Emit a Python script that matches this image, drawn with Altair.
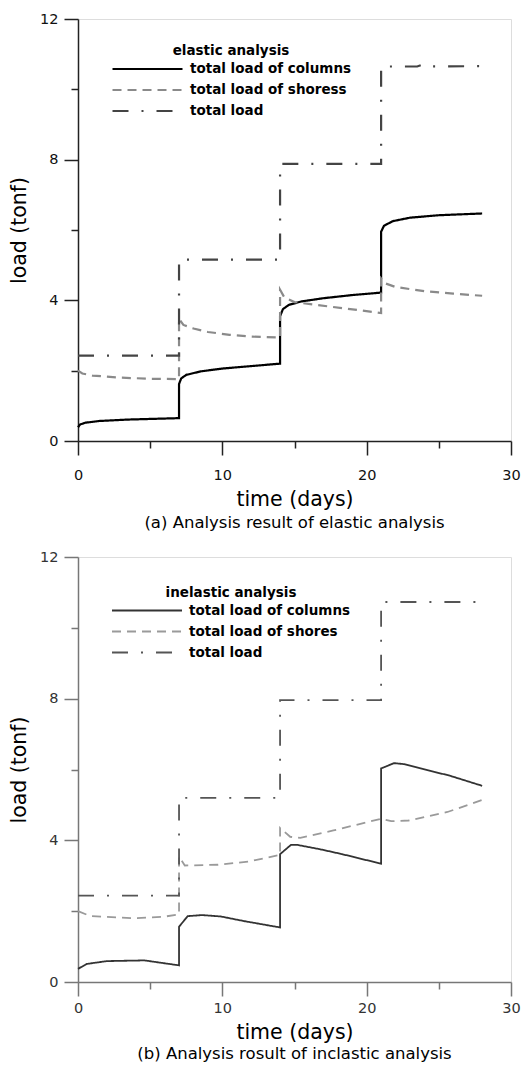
import altair as alt
import pandas as pd

FONT = "DejaVu Sans"

# ---------------- data ----------------
series_a = ["total load of columns", "total load of shoress", "total load"]
series_b = ["total load of columns", "total load of shores", "total load"]

# panel (a) elastic analysis
a_col_t = [0, 0.15, 0.5, 1.5, 3.5, 7, 7, 7.15, 7.5, 8.5, 10, 12, 14, 14, 14.2, 14.6, 15.5, 17, 19, 21, 21, 21.2, 21.8, 23, 25, 28]
a_col_v = [0.39, 0.47, 0.52, 0.57, 0.61, 0.65, 1.62, 1.78, 1.88, 1.98, 2.06, 2.13, 2.2, 3.55, 3.75, 3.87, 3.97, 4.06, 4.15, 4.22, 5.95, 6.12, 6.25, 6.35, 6.42, 6.47]
a_sho_t = [0, 0.3, 1, 3, 5, 7, 7, 7.3, 8, 9, 10.5, 12, 14, 14, 14.3, 15, 16.5, 18.5, 21, 21, 21.3, 22, 24, 26, 28]
a_sho_v = [2.0, 1.92, 1.86, 1.8, 1.77, 1.76, 3.48, 3.3, 3.2, 3.1, 3.02, 2.97, 2.94, 4.3, 4.08, 3.95, 3.87, 3.77, 3.64, 4.62, 4.48, 4.38, 4.26, 4.19, 4.13]
a_tot_t = [0, 7, 7, 14, 14, 21, 21, 23.5, 24, 24.5, 28]
a_tot_v = [2.43, 2.43, 5.16, 5.16, 7.88, 7.88, 10.65, 10.65, 10.72, 10.65, 10.66]

# panel (b) inelastic analysis
b_col_t = [0, 0.6, 2.0, 4.6, 7, 7, 7.6, 8.6, 9.9, 11.5, 14, 14, 14.75, 15.2, 16.75, 18.3, 21, 21, 21.9, 22.6, 25.8, 28]
b_col_v = [0.37, 0.51, 0.59, 0.61, 0.47, 1.56, 1.86, 1.89, 1.85, 1.72, 1.54, 3.61, 3.87, 3.87, 3.75, 3.61, 3.34, 6.03, 6.18, 6.15, 5.82, 5.54]
b_sho_t = [0, 0.86, 3.8, 5.9, 7, 7, 7.4, 9.7, 11.8, 14, 14, 14.7, 15.4, 17.7, 21, 21.7, 22.9, 25.6, 28]
b_sho_v = [2.0, 1.86, 1.80, 1.84, 1.91, 3.54, 3.29, 3.31, 3.40, 3.59, 4.35, 4.10, 4.07, 4.28, 4.61, 4.54, 4.56, 4.80, 5.14]
b_tot_t = [0, 7, 7, 14, 14, 21, 21, 28]
b_tot_v = [2.44, 2.44, 5.2, 5.2, 7.96, 7.96, 10.73, 10.73]

x_ticks = [0, 5, 10, 15, 20, 25, 30]
y_ticks = [0, 2, 4, 6, 8, 10, 12]


def frame(names, parts):
    rows = []
    for name, (ts, vs) in zip(names, parts):
        for i, (t, v) in enumerate(zip(ts, vs)):
            rows.append({"series": name, "t": t, "v": v, "i": i})
    return pd.DataFrame(rows)


df_a = frame(series_a, [(a_col_t, a_col_v), (a_sho_t, a_sho_v), (a_tot_t, a_tot_v)])
df_b = frame(series_b, [(b_col_t, b_col_v), (b_sho_t, b_sho_v), (b_tot_t, b_tot_v)])

dashes = [[1, 0], [9, 6], [16, 13, 2, 13]]


def panel(df, names, colors, axis_color, label_color, legend_title, caption, w, h,
          lx, ly, line_w, xlab_pad, xtitle_pad, cap_off):
    legend = alt.Legend(
        title=legend_title, orient="none", legendX=lx, legendY=ly,
        titleAnchor="middle", titleFont=FONT, titleFontSize=13.5, titleFontWeight="bold",
        titleColor="black", titlePadding=3, titleLimit=400, labelLimit=400,
        labelFont=FONT, labelFontSize=13.5, labelFontWeight="bold", labelColor="black",
        symbolType="M-1,0H9", symbolSize=196, symbolStrokeWidth=line_w, labelOffset=62,
        rowPadding=6, padding=0,
    )
    x_axis = alt.Axis(
        values=x_ticks, labelExpr="datum.value % 10 == 0 ? datum.label : ''",
        tickSize={"condition": {"test": "datum.value % 10 == 0", "value": 14}, "value": 7},
        title="time (days)", titleFont=FONT, titleFontSize=20.5, titleFontWeight="normal",
        titleColor="black", titlePadding=xtitle_pad,
        labelFont=FONT, labelFontSize=14.5, labelColor=label_color, labelPadding=xlab_pad,
        domainColor=axis_color, tickColor=axis_color, domainWidth=1.5, tickWidth=1.5,
        grid=False, labelFlush=False,
    )
    y_axis = alt.Axis(
        values=y_ticks, labelExpr="datum.value % 4 == 0 ? datum.label : ''",
        tickSize={"condition": {"test": "datum.value % 4 == 0", "value": 14}, "value": 7},
        title="load (tonf)", titleFont=FONT, titleFontSize=20.5, titleFontWeight="normal",
        titleColor="black", titlePadding=10,
        labelFont=FONT, labelFontSize=14.5, labelColor=label_color, labelPadding=6,
        domainColor=axis_color, tickColor=axis_color, domainWidth=1.5, tickWidth=1.5,
        grid=False, labelFlush=False,
    )
    return alt.Chart(df).mark_line(strokeWidth=line_w).encode(
        x=alt.X("t:Q", scale=alt.Scale(domain=[0, 30], nice=False, zero=False), axis=x_axis),
        y=alt.Y("v:Q", scale=alt.Scale(domain=[0, 12], nice=False), axis=y_axis),
        color=alt.Color("series:N", scale=alt.Scale(domain=names, range=colors), legend=legend),
        strokeDash=alt.StrokeDash("series:N", scale=alt.Scale(domain=names, range=dashes), legend=legend),
        order=alt.Order("i:Q"),
    ).properties(
        width=w, height=h,
        title=alt.TitleParams(caption, orient="bottom", anchor="middle", font=FONT,
                              fontSize=16.5, fontWeight="normal", color="black", offset=cap_off),
    )


pa = panel(df_a, series_a, ["#000000", "#8a8a8a", "#444444"], "#222222", "#111111",
           "elastic analysis", "(a) Analysis result of elastic analysis",
           433, 422, 33, 25, 2.2, 13, 8, 5)
pb = panel(df_b, series_b, ["#333333", "#9a9a9a", "#555555"], "#777777", "#333333",
           "inelastic analysis", "(b) Analysis rosult of inclastic analysis",
           433, 425, 33, 29, 1.8, 5, 8, 3)

chart = (
    alt.vconcat(pa, pb, spacing=116, bounds="flush")
    .resolve_scale(color="independent", strokeDash="independent")
    .resolve_legend(color="independent", strokeDash="independent")
    .properties(padding={"left": 1, "top": 2, "right": 0, "bottom": 0})
    .configure_view(stroke=None)
    .configure(font=FONT)
)

chart.save("out.html", embed_options={"renderer": "svg", "actions": False})
